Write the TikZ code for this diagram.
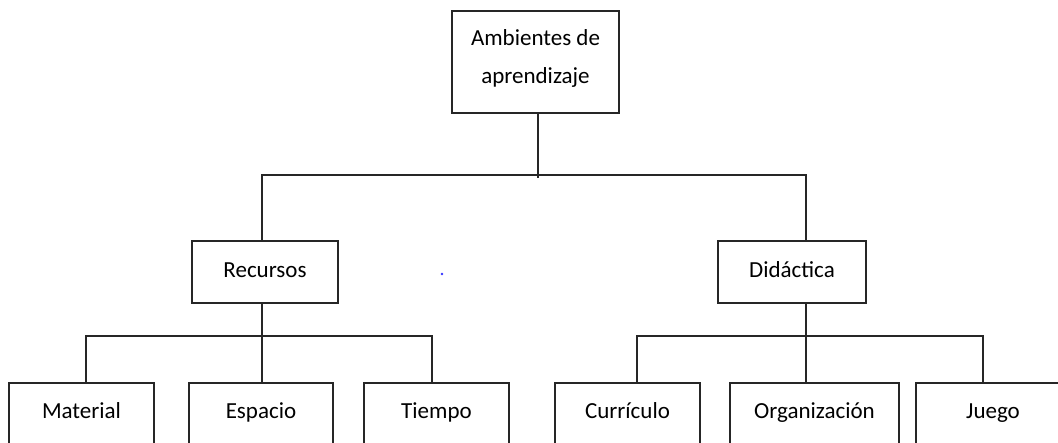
\documentclass[tikz,border=0pt]{standalone}
\usepackage{fontspec}
\setmainfont{Carlito}
\begin{document}
\begin{tikzpicture}[x=1pt,y=-1pt,
  box/.style={draw=black!85, line width=1.8pt, inner sep=0pt, text height=36pt, text depth=26pt,
    font=\fontsize{23}{38}\selectfont},
  lowbox/.style={box, anchor=north, text depth=60pt},
  conn/.style={draw=black!85, line width=1.8pt}]
\useasboundingbox (0,0) rectangle (1058,442);
\clip (0,0) rectangle (1058,442);
\node[box, anchor=north, minimum width=167pt, align=center, text height=73pt, text depth=29pt]
  (top) at (535.5,10) {Ambientes de\\aprendizaje};
\node[box, minimum width=146pt] (rec) at (265,272) {Recursos};
\node[box, minimum width=148pt] (did) at (792,272) {Didáctica};
\node[lowbox, minimum width=145pt] (mat) at (81.5,382) {Material};
\node[lowbox, minimum width=144pt] (esp) at (261,382) {Espacio};
\node[lowbox, minimum width=145pt] (tie) at (436.5,382) {Tiempo};
\node[lowbox, minimum width=145pt] (cur) at (627.5,382) {Currículo};
\node[lowbox, minimum width=169pt] (org) at (814.5,382) {Organización};
\node[lowbox, minimum width=154pt] (jue) at (993,382) {Juego};
\draw[conn] ([xshift=2.5pt]top.south) -- ++(0,64);
\draw[conn] ([xshift=-3pt]rec.north) -- ++(0,-65) -| ([xshift=14pt]did.north);
\draw[conn] ([xshift=-3pt]rec.south) -- ([xshift=1pt]esp.north);
\draw[conn] ([xshift=4.5pt]mat.north) -- ++(0,-46) -| ([xshift=-4.5pt]tie.north);
\draw[conn] ([xshift=14pt]did.south) -- ([xshift=-8.5pt]org.north);
\draw[conn] ([xshift=9.5pt]cur.north) -- ++(0,-46) -| ([xshift=-10pt]jue.north);
\fill[blue!80] (442,274) circle (1.3pt);
\end{tikzpicture}
\end{document}
